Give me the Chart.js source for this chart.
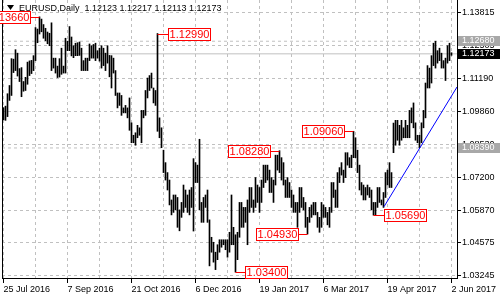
<!DOCTYPE html>
<html>
<head>
<meta charset="utf-8">
<script src="https://cdn.jsdelivr.net/npm/chart.js@4"></script>
<style>
  html, body { margin: 0; padding: 0; background: #fff; }
  canvas { display: block; }
</style>
</head>
<body>
<canvas id="eurusdChart" width="500" height="300"></canvas>
<script>
// EURUSD daily bars, 25 Jul 2016 .. 2 Jun 2017 (one bar per trading day)
const lows = [
  1.0952, 1.0950, 1.0965, 1.1030, 1.1050, 1.1142, 1.1150, 1.1128, 1.1106, 1.1045,
  1.1067, 1.1070, 1.1095, 1.1130, 1.1138, 1.1150, 1.1190, 1.1262, 1.1297, 1.1306,
  1.1280, 1.1270, 1.1258, 1.1250, 1.1150, 1.1160, 1.1140, 1.1122, 1.1124, 1.1135,
  1.1140, 1.1140, 1.1230, 1.1230, 1.1209, 1.1202, 1.1210, 1.1210, 1.1211, 1.1150,
  1.1150, 1.1150, 1.1150, 1.1190, 1.1200, 1.1200, 1.1190, 1.1200, 1.1188, 1.1160,
  1.1170, 1.1150, 1.1180, 1.1125, 1.1080, 1.1140, 1.1050, 1.1000, 1.1010, 1.0970,
  1.0980, 1.0980, 1.0960, 1.0910, 1.0860, 1.0860, 1.0850, 1.0880, 1.0890, 1.0860,
  1.0960, 1.0970, 1.1040, 1.1070, 1.1080, 1.1020, 1.1010, 1.0906, 1.0880, 1.0840,
  1.0740, 1.0710, 1.0670, 1.0610, 1.0570, 1.0580, 1.0590, 1.0520, 1.0506, 1.0560,
  1.0580, 1.0600, 1.0580, 1.0570, 1.0600, 1.0505, 1.0700, 1.0700, 1.0590, 1.0540,
  1.0540, 1.0600, 1.0540, 1.0365, 1.0420, 1.0380, 1.0350, 1.0390, 1.0420, 1.0440,
  1.0450, 1.0430, 1.0400, 1.0420, 1.0450, 1.0450, 1.0340, 1.0390, 1.0480, 1.0520,
  1.0520, 1.0540, 1.0450, 1.0580, 1.0600, 1.0580, 1.0600, 1.0620, 1.0580, 1.0620,
  1.0680, 1.0700, 1.0710, 1.0660, 1.0660, 1.0620, 1.0690, 1.0750, 1.0740, 1.0710,
  1.0690, 1.0640, 1.0640, 1.0640, 1.0600, 1.0580, 1.0580, 1.0520, 1.0580, 1.0600,
  1.0590, 1.0520, 1.0493, 1.0540, 1.0560, 1.0570, 1.0570, 1.0520, 1.0500, 1.0520,
  1.0560, 1.0560, 1.0530, 1.0520, 1.0580, 1.0640, 1.0600, 1.0600, 1.0700, 1.0730,
  1.0700, 1.0720, 1.0770, 1.0760, 1.0760, 1.0800, 1.0800, 1.0740, 1.0670, 1.0650,
  1.0630, 1.0630, 1.0650, 1.0640, 1.0590, 1.0569, 1.0570, 1.0600, 1.0620, 1.0610,
  1.0600, 1.0640, 1.0690, 1.0680, 1.0680, 1.0820, 1.0850, 1.0870, 1.0850, 1.0870,
  1.0880, 1.0880, 1.0880, 1.0880, 1.0940, 1.0920, 1.0870, 1.0860, 1.0840, 1.0860,
  1.0920, 1.0960, 1.1080, 1.1080, 1.1100, 1.1170, 1.1160, 1.1180, 1.1190, 1.1160,
  1.1160, 1.1110, 1.1180, 1.1190, 1.12113
];
const highs = [
  1.1001, 1.1007, 1.1057, 1.1090, 1.1198, 1.1196, 1.1234, 1.1220, 1.1158, 1.1162,
  1.1106, 1.1123, 1.1184, 1.1189, 1.1191, 1.1210, 1.1323, 1.1317, 1.1366, 1.1357,
  1.1335, 1.1320, 1.1305, 1.1300, 1.1342, 1.1200, 1.1200, 1.1168, 1.1198, 1.1240,
  1.1168, 1.1280, 1.1268, 1.1327, 1.1285, 1.1250, 1.1260, 1.1262, 1.1265, 1.1240,
  1.1190, 1.1200, 1.1200, 1.1257, 1.1250, 1.1255, 1.1260, 1.1230, 1.1240, 1.1250,
  1.1240, 1.1220, 1.1250, 1.1211, 1.1210, 1.1200, 1.1150, 1.1060, 1.1060, 1.1050,
  1.1000, 1.1010, 1.1000, 1.1040, 1.0940, 1.0890, 1.0900, 1.0930, 1.0920, 1.0990,
  1.0990, 1.1070, 1.1120, 1.1130, 1.1140, 1.1080, 1.1070, 1.1299, 1.0960, 1.0920,
  1.0830, 1.0780, 1.0740, 1.0710, 1.0630, 1.0650, 1.0650, 1.0640, 1.0590, 1.0620,
  1.0690, 1.0670, 1.0650, 1.0670, 1.0680, 1.0796, 1.0780, 1.0770, 1.0874, 1.0620,
  1.0640, 1.0650, 1.0670, 1.0550, 1.0480, 1.0460, 1.0420, 1.0450, 1.0470, 1.0470,
  1.0470, 1.0470, 1.0470, 1.0500, 1.0650, 1.0520, 1.0490, 1.0500, 1.0620, 1.0620,
  1.0600, 1.0600, 1.0630, 1.0680, 1.0680, 1.0630, 1.0720, 1.0690, 1.0680, 1.0710,
  1.0770, 1.0770, 1.0770, 1.0750, 1.0720, 1.0710, 1.0810, 1.0810, 1.0828, 1.0800,
  1.0780, 1.0710, 1.0720, 1.0700, 1.0670, 1.0650, 1.0620, 1.0620, 1.0680, 1.0680,
  1.0640, 1.0620, 1.0560, 1.0600, 1.0610, 1.0620, 1.0620, 1.0580, 1.0560, 1.0620,
  1.0610, 1.0600, 1.0580, 1.0600, 1.0700, 1.0700, 1.0670, 1.0740, 1.0760, 1.0780,
  1.0750, 1.0820, 1.0820, 1.0800, 1.0810, 1.0906, 1.0880, 1.0830, 1.0770, 1.0700,
  1.0690, 1.0680, 1.0690, 1.0680, 1.0670, 1.0620, 1.0620, 1.0680, 1.0680, 1.0630,
  1.0660, 1.0740, 1.0750, 1.0780, 1.0740, 1.0939, 1.0950, 1.0950, 1.0930, 1.0950,
  1.0920, 1.0950, 1.0930, 1.0990, 1.1000, 1.1020, 1.0940, 1.0890, 1.0890, 1.0940,
  1.0990, 1.1100, 1.1170, 1.1160, 1.1210, 1.1260, 1.1268, 1.1230, 1.1240, 1.1220,
  1.1190, 1.1200, 1.1250, 1.1260, 1.12217
];

// axis labels
const dateLabels = ['25 Jul 2016', '7 Sep 2016', '21 Oct 2016', '6 Dec 2016',
                    '19 Jan 2017', '6 Mar 2017', '19 Apr 2017', '2 Jun 2017'];
const barsPerLabel = 32;
const barsPerGrid = 16;
const priceTicks = [1.03245, 1.04575, 1.05870, 1.07200, 1.08530, 1.09860, 1.11190, 1.12505, 1.13815];

// drawn objects: swing labels, trend line, horizontal levels
const swingIndex = [18, 77, 116, 138, 152, 175, 185];
const swingPrice = [1.13660, 1.12990, 1.03400, 1.08280, 1.04930, 1.09060, 1.05690];
const swingSide  = ['left', 'right', 'right', 'left', 'left', 'left', 'right'];
const trendIndex = [190.25, 226.75];
const trendPrice = [1.0603, 1.1084];
const levelPrices = [1.12680, 1.08390];
const lastPrice = 1.12173;
const titleText = 'EURUSD,Daily  1.12123 1.12217 1.12113 1.12173';

const xMin = -0.75, xMax = 226.75;
const yMin = 1.03163, yMax = 1.14337;

const FONT = "'Liberation Sans', Arial, sans-serif";
Chart.defaults.font.family = FONT;
Chart.defaults.font.size = 9;
Chart.defaults.color = '#000';

const gridTicks = [];
for (let i = 0; i <= lows.length - 1; i += barsPerGrid) gridTicks.push(i);

const mtOverlay = {
    id: 'mtOverlay',
    afterDraw(chart) {
        const { ctx, chartArea: ca, scales: { x, y } } = chart;
        ctx.save();

        // left frame
        ctx.strokeStyle = '#000';
        ctx.lineWidth = 1;
        ctx.beginPath();
        ctx.moveTo(Math.round(ca.left) + 0.5, ca.top);
        ctx.lineTo(Math.round(ca.left) + 0.5, ca.bottom);
        ctx.stroke();

        // price tags on the axis
        const tag = (p, bg) => {
            const py = Math.round(y.getPixelForValue(p));
            ctx.fillStyle = bg;
            ctx.fillRect(Math.round(ca.right) + 1, py - 5, chart.width - ca.right, 10);
            ctx.fillStyle = '#fff';
            ctx.font = '9px ' + FONT;
            ctx.textAlign = 'left';
            ctx.textBaseline = 'middle';
            ctx.fillText(p.toFixed(5), Math.round(ca.right) + 5, py);
        };
        levelPrices.forEach(p => tag(p, '#a8a8a8'));
        tag(lastPrice, '#000');

        // swing high / low labels
        ctx.font = '11px ' + FONT;
        ctx.textAlign = 'center';
        ctx.textBaseline = 'middle';
        const w = 42, h = 12, gap = 10;
        swingIndex.forEach((idx, k) => {
            const px = x.getPixelForValue(idx);
            const py = Math.round(y.getPixelForValue(swingPrice[k])) + 0.5;
            const left = swingSide[k] === 'left';
            const bx = left ? Math.round(px - gap - w) + 0.5 : Math.round(px + gap) + 0.5;
            ctx.strokeStyle = '#ff0000';
            ctx.beginPath();
            if (left) { ctx.moveTo(bx + w, py); ctx.lineTo(px, py); }
            else { ctx.moveTo(px, py); ctx.lineTo(bx, py); }
            ctx.stroke();
            ctx.fillStyle = '#fff';
            ctx.fillRect(bx, py - h / 2, w, h);
            ctx.strokeRect(bx, py - h / 2, w, h);
            ctx.fillStyle = '#ff0000';
            ctx.fillText(swingPrice[k].toFixed(5), bx + w / 2, py + 0.5);
        });

        // title
        const tx = ca.left, ty = ca.top;
        ctx.fillStyle = '#000';
        ctx.beginPath();
        ctx.moveTo(tx + 5, ty + 5);
        ctx.lineTo(tx + 12, ty + 5);
        ctx.lineTo(tx + 8.5, ty + 10);
        ctx.closePath();
        ctx.fill();
        ctx.font = '9px ' + FONT;
        ctx.textAlign = 'left';
        ctx.textBaseline = 'middle';
        ctx.fillText(titleText, tx + 17, ty + 9);

        ctx.restore();
    }
};

const levelSets = levelPrices.map(p => ({
    type: 'line',
    data: [{ x: xMin, y: p }, { x: xMax, y: p }],
    borderColor: '#c0c0c0',
    borderWidth: 1,
    borderDash: [3, 3],
    pointRadius: 0
}));

new Chart(document.getElementById('eurusdChart'), {
    type: 'bar',
    data: {
        datasets: [
            {
                type: 'line',
                data: trendIndex.map((v, i) => ({ x: v, y: trendPrice[i] })),
                borderColor: '#0000ff',
                borderWidth: 1,
                pointRadius: 0
            },
            {
                type: 'bar',
                data: lows.map((lo, i) => ({ x: i, y: [lo, highs[i]] })),
                backgroundColor: '#000',
                borderWidth: 0,
                barThickness: 1
            },
            {
                type: 'line',
                data: [{ x: xMin, y: lastPrice }, { x: xMax, y: lastPrice }],
                borderColor: '#c0c0c0',
                borderWidth: 1,
                pointRadius: 0
            },
            ...levelSets
        ]
    },
    options: {
        responsive: false,
        animation: false,
        events: [],
        layout: { padding: { left: 2, top: 0, right: 0, bottom: 0 } },
        plugins: { legend: { display: false }, tooltip: { enabled: false } },
        scales: {
            x: {
                type: 'linear',
                min: xMin,
                max: xMax,
                offset: false,
                afterBuildTicks: s => { s.ticks = gridTicks.map(v => ({ value: v })); },
                afterFit: s => { s.height = 22; s.paddingLeft = 0; s.paddingRight = 0; },
                grid: {
                    offset: false,
                    color: '#c0c0c0',
                    tickLength: 5,
                    tickColor: c => (c.tick && c.tick.value % barsPerLabel === 0) ? '#000' : 'rgba(0,0,0,0)'
                },
                border: { color: '#000', dash: [3, 3] },
                ticks: {
                    autoSkip: false,
                    maxRotation: 0,
                    align: 'start',
                    padding: 1,
                    callback: v => v % barsPerLabel === 0 ? dateLabels[v / barsPerLabel] : ''
                }
            },
            y: {
                position: 'right',
                min: yMin,
                max: yMax,
                beginAtZero: false,
                afterBuildTicks: s => { s.ticks = priceTicks.map(v => ({ value: v })); },
                afterFit: s => { s.width = 43; s.paddingTop = 0; s.paddingBottom = 0; },
                grid: { color: '#c0c0c0', tickLength: 4, tickColor: '#000' },
                border: { color: '#000', dash: [3, 3] },
                ticks: {
                    autoSkip: false,
                    padding: 1,
                    callback: v => v.toFixed(5)
                }
            }
        }
    },
    plugins: [mtOverlay]
});
</script>
</body>
</html>
